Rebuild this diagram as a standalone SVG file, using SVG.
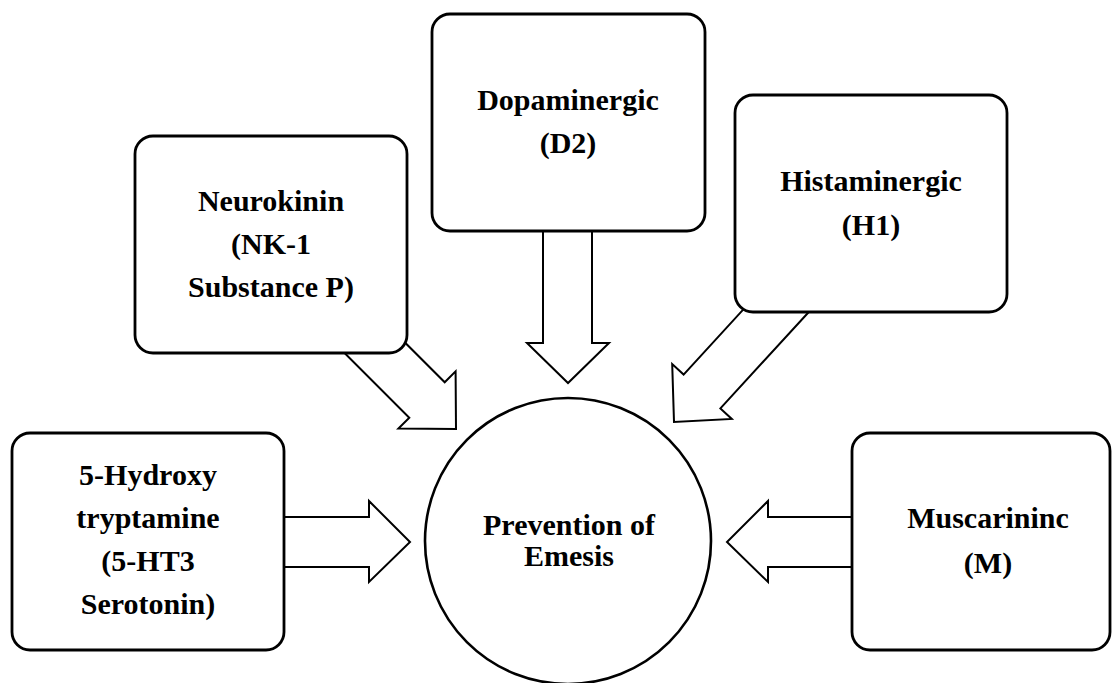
<svg xmlns="http://www.w3.org/2000/svg" width="1112" height="683" viewBox="0 0 1112 683">
<style>
.box{fill:#fff;stroke:#000;stroke-width:2.8}
.arrow{fill:#fff;stroke:#000;stroke-width:2}
.lbl{font-family:'Liberation Serif','DejaVu Serif',serif;font-weight:700;font-size:30px;fill:#000;text-anchor:middle}
</style>
<rect width="1112" height="683" fill="#fff"/>
<g id="connectors">
<polygon class="arrow" points="200,517 369,517 369,501 410,542 369,582 369,567 200,567"/>
<polygon class="arrow" points="900,517 768,517 768,501 727,542 768,582 768,567 900,567"/>
<polygon class="arrow" points="543,180 543,343 527,343 568,383 609,343 592,343 592,180"/>
<polygon class="arrow" points="359.7,297.3 444.7,382.3 455.6,371.4 456,429 398.4,428.6 409.3,417.7 324.3,332.7"/>
<polygon class="arrow" points="815,305.2 720.4,408.4 731.8,418.9 674,422 672.2,364.1 683.6,374.6 778.2,271.4"/>
</g>
<g id="node-5ht">
<rect class="box" x="12" y="433" width="272" height="217" rx="18"/>
<text class="lbl" x="148" y="485">5-Hydroxy</text>
<text class="lbl" x="148" y="528">tryptamine</text>
<text class="lbl" x="148" y="571">(5-HT3</text>
<text class="lbl" x="148" y="614">Serotonin)</text>
</g>
<g id="node-nk1">
<rect class="box" x="135" y="136" width="272" height="217" rx="18"/>
<text class="lbl" x="271" y="211">Neurokinin</text>
<text class="lbl" x="271" y="254">(NK-1</text>
<text class="lbl" x="271" y="297">Substance P)</text>
</g>
<g id="node-d2">
<rect class="box" x="432" y="14" width="273" height="217" rx="18"/>
<text class="lbl" x="568" y="110">Dopaminergic</text>
<text class="lbl" x="568" y="153">(D2)</text>
</g>
<g id="node-h1">
<rect class="box" x="735" y="95" width="272" height="217" rx="18"/>
<text class="lbl" x="871" y="191">Histaminergic</text>
<text class="lbl" x="871" y="235">(H1)</text>
</g>
<g id="node-m">
<rect class="box" x="852" y="433" width="258" height="217" rx="18"/>
<text class="lbl" x="988" y="528">Muscarininc</text>
<text class="lbl" x="988" y="573">(M)</text>
</g>
<g id="node-emesis">
<circle cx="568" cy="541" r="143" fill="#fff" stroke="#000" stroke-width="2.6"/>
<text class="lbl" x="569" y="535">Prevention of</text>
<text class="lbl" x="569" y="566">Emesis</text>
</g>
</svg>
